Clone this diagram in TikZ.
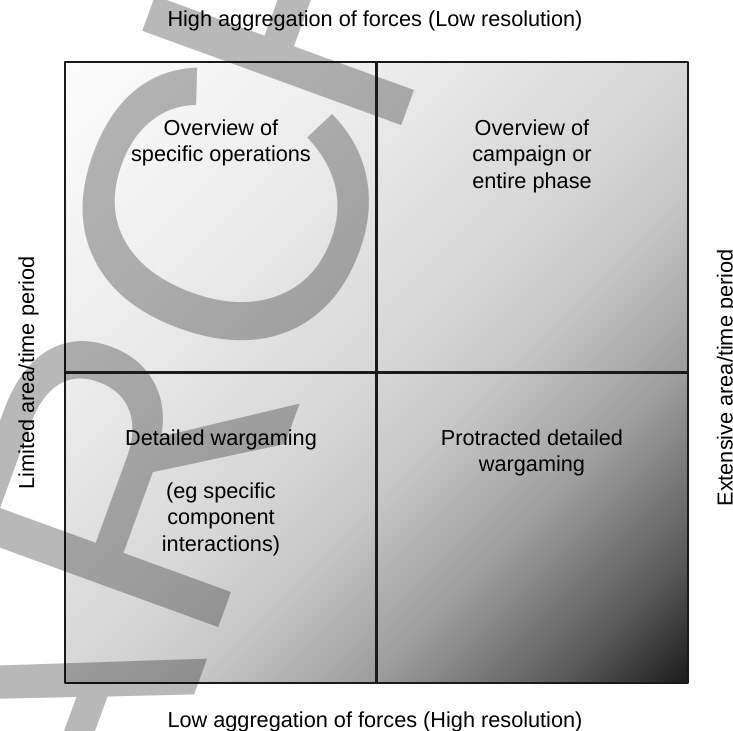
\documentclass[tikz,border=0pt]{standalone}
\usepackage{fontspec}
\setmainfont{Liberation Sans}
\usepackage{tikz}
\usetikzlibrary{positioning}
\definecolor{RuleGrey}{RGB}{26,26,26}
\definecolor{ShadeA}{gray}{0.11}
\definecolor{ShadeB}{gray}{0.35}
\definecolor{ShadeC}{gray}{0.61}
\definecolor{ShadeD}{gray}{0.78}
\definecolor{ShadeE}{gray}{0.84}
\definecolor{ShadeF}{gray}{0.93}
\definecolor{ShadeG}{gray}{0.99}
\pgfdeclareverticalshading{quadshade}{100bp}{%
  color(0bp)=(ShadeA); color(14.64bp)=(ShadeA); color(21.72bp)=(ShadeB);
  color(32.33bp)=(ShadeC); color(42.93bp)=(ShadeD); color(50bp)=(ShadeE);
  color(67.68bp)=(ShadeF); color(85.36bp)=(ShadeG); color(100bp)=(ShadeG)}
\tikzset{every node/.style={font=\fontsize{12.35}{15.1}\selectfont}, every path/.style={line cap=round, line join=round}}

\begin{document}
\begin{tikzpicture}[
    frame/.style={
        draw=RuleGrey,
        line width=1.3pt,
        shading=quadshade,
        shading angle=45,
        minimum width=12.46cm,
        minimum height=12.42cm,
        inner sep=0pt,
        outer sep=0pt
    },
    quad/.style={
        align=center,
        anchor=north,
        inner sep=0pt
    },
    axis/.style={
        anchor=base,
        inner sep=0pt
    },
    stamp/.style={
        anchor=base west,
        rotate=70,
        inner sep=0pt,
        text=black,
        text opacity=0.28,
        font=\fontsize{228}{228}\selectfont
    },
    divider/.style={
        draw=RuleGrey,
        line width=1.3pt
    }
]
\useasboundingbox (0,0) rectangle (14.66,14.62);

\node[frame] (frame) at (7.53,7.17) {};

% watermark, mostly off the page
\node[stamp] (mark) at (2.32,-3.58) {AR\kern-0.025em C\kern-0.085em H};

\draw[divider] (frame.north) -- (frame.south);
\draw[divider] (frame.west) -- (frame.east);

\node[quad] (tl) at (4.42,12.24) {Overview of\\specific operations};
\node[quad] (tr) at (10.64,12.24) {Overview of\\campaign or\\entire phase};
\node[quad] (bl) at (4.42,6.04) {Detailed wargaming\\[15.1pt](eg specific\\component\\interactions)};
\node[quad] (br) at (10.64,6.04) {Protracted detailed\\wargaming};

\node[axis] (top) at (7.50,14.08) {High aggregation of forces (Low resolution)};
\node[axis] (bottom) at (7.50,0.06) {Low aggregation of forces (High resolution)};
\node[axis, rotate=90] (left) at (0.68,7.16) {Limited area/time period};
\node[axis, rotate=90] (right) at (14.65,7.06) {Extensive area/time period};

\end{tikzpicture}
\end{document}
